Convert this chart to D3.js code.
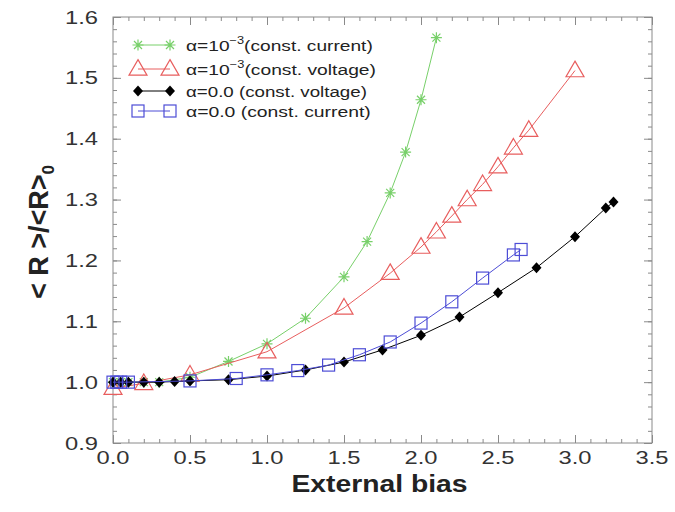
<!DOCTYPE html>
<html><head><meta charset="utf-8">
<script src="https://cdn.jsdelivr.net/npm/d3@7"></script>
<style>
body{margin:0;background:#fff;}
svg{display:block;font-family:"Liberation Sans",Arial,Helvetica,sans-serif;}
</style></head>
<body><svg id="c" width="675" height="512"></svg>
<script>
// ---- data ----
const greenX = [0, 0.05, 0.1, 0.2, 0.3, 0.5, 0.75, 1.0, 1.25, 1.5, 1.65, 1.8, 1.9, 2.0, 2.1];
const greenY = [1.0, 1.0, 1.0, 1.0, 1.0, 1.008, 1.034, 1.063, 1.105, 1.173, 1.231, 1.311, 1.378, 1.464, 1.566];
const redX = [0, 0.2, 0.5, 1.0, 1.5, 1.8, 2.0, 2.1, 2.2, 2.3, 2.4, 2.5, 2.6, 2.7, 3.0];
const redY = [0.99, 0.998, 1.012, 1.05, 1.122, 1.179, 1.222, 1.247, 1.273, 1.30, 1.325, 1.354, 1.385, 1.414, 1.512];
const blackX = [0, 0.05, 0.1, 0.2, 0.3, 0.4, 0.5, 0.75, 1.0, 1.25, 1.5, 1.75, 2.0, 2.25, 2.5, 2.75, 3.0, 3.2, 3.25];
const blackY = [1.0, 1.0, 1.0, 1.0, 1.0, 1.001, 1.002, 1.004, 1.01, 1.02, 1.033, 1.053, 1.077, 1.107, 1.147, 1.188, 1.239, 1.286, 1.296];
const blueX = [0, 0.025, 0.05, 0.1, 0.5, 0.8, 1.0, 1.2, 1.4, 1.6, 1.8, 2.0, 2.2, 2.4, 2.6, 2.65];
const blueY = [1.0, 1.0, 1.0, 1.0, 1.002, 1.006, 1.012, 1.019, 1.028, 1.045, 1.066, 1.097, 1.132, 1.171, 1.209, 1.218];
const xTickValues = [0, 0.5, 1.0, 1.5, 2.0, 2.5, 3.0, 3.5];
const yTickValues = [0.9, 1.0, 1.1, 1.2, 1.3, 1.4, 1.5, 1.6];
const seriesNames = ["α=10|−3|(const. current)", "α=10|−3|(const. voltage)", "α=0.0 (const. voltage)", "α=0.0 (const. current)"];

const series = [
  {name: seriesNames[0], xs: greenX, ys: greenY, color: "#78d06a", marker: "star", legW: 187},
  {name: seriesNames[1], xs: redX, ys: redY, color: "#e85e5e", marker: "tri", legW: 190},
  {name: seriesNames[2], xs: blackX, ys: blackY, color: "#000000", marker: "diamond", legW: 181},
  {name: seriesNames[3], xs: blueX, ys: blueY, color: "#4d4dd6", marker: "square", legW: 185}
];

const svg = d3.select("#c");
const L = 113, R = 652, T = 17, B = 443;
const x = d3.scaleLinear().domain([0, 3.5]).range([L, R]);
const y = d3.scaleLinear().domain([0.9, 1.6]).range([B, T]);

// stretch a text element horizontally to a target width (anchored at its own origin)
function fitWidth(t, w){
  const bw = t.node().getBBox().width;
  if (bw > 0) t.attr("transform", `scale(${w / bw},1)`);
}

const frameColor = "#8a8a8a";
const xMinor = d3.range(0, 3.5001, 0.1);
const yMinor = d3.range(0.9, 1.6001, 0.02);
function axisGroup(axis, tx, ty){
  const g = svg.append("g").attr("transform", `translate(${tx},${ty})`).call(axis);
  g.select(".domain").remove();
  g.selectAll("line").attr("stroke", frameColor);
  g.selectAll("text").remove();
  return g;
}
axisGroup(d3.axisBottom(x).tickValues(xMinor).tickSize(-4), 0, B);
axisGroup(d3.axisTop(x).tickValues(xMinor).tickSize(-4), 0, T);
axisGroup(d3.axisLeft(y).tickValues(yMinor).tickSize(-4), L, 0);
axisGroup(d3.axisRight(y).tickValues(yMinor).tickSize(-4), R, 0);
axisGroup(d3.axisBottom(x).tickValues(xTickValues).tickSize(-8), 0, B);
axisGroup(d3.axisTop(x).tickValues(xTickValues).tickSize(-8), 0, T);
axisGroup(d3.axisLeft(y).tickValues(yTickValues).tickSize(-8), L, 0);
axisGroup(d3.axisRight(y).tickValues(yTickValues).tickSize(-8), R, 0);

svg.append("rect").attr("x", L).attr("y", T).attr("width", R - L).attr("height", B - T)
  .attr("fill", "none").attr("stroke", frameColor).attr("stroke-width", 1);

// tick labels
const fmt = d3.format(".1f");
xTickValues.forEach(v => {
  const g = svg.append("g").attr("transform", `translate(${x(v)},${B + 21})`);
  const t = g.append("text").attr("text-anchor", "middle").attr("font-size", 18).attr("fill", "#333").text(fmt(v));
  fitWidth(t, 33);
});
yTickValues.forEach(v => {
  const g = svg.append("g").attr("transform", `translate(98,${y(v) + 6.5})`);
  const t = g.append("text").attr("text-anchor", "end").attr("font-size", 18).attr("fill", "#333").text(fmt(v));
  fitWidth(t, 33);
});

// marker drawing
function drawMarker(g, type, color, cx, cy){
  if (type === "star"){
    const s = 5.5;
    g.append("path").attr("d", `M${cx-s},${cy}L${cx+s},${cy}M${cx},${cy-s}L${cx},${cy+s}M${cx-4},${cy-4}L${cx+4},${cy+4}M${cx-4},${cy+4}L${cx+4},${cy-4}`)
      .attr("stroke", color).attr("stroke-width", 1.2).attr("fill", "none");
  } else if (type === "tri"){
    g.append("path").attr("d", d3.symbol(d3.symbolTriangle, 140)()).attr("transform", `translate(${cx},${cy+1})`)
      .attr("fill", "none").attr("stroke", color).attr("stroke-width", 1.2);
  } else if (type === "diamond"){
    g.append("path").attr("d", `M${cx},${cy-5.5}L${cx+5},${cy}L${cx},${cy+5.5}L${cx-5},${cy}Z`).attr("fill", color);
  } else if (type === "square"){
    g.append("rect").attr("x", cx-6).attr("y", cy-6).attr("width", 12).attr("height", 12)
      .attr("fill", "none").attr("stroke", color).attr("stroke-width", 1.2);
  }
}

const line = d3.line().x(d => x(d[0])).y(d => y(d[1]));
series.forEach(s => {
  const pts = s.xs.map((v, i) => [v, s.ys[i]]);
  const g = svg.append("g");
  g.append("path").datum(pts).attr("d", line).attr("fill", "none").attr("stroke", s.color).attr("stroke-width", 1);
  pts.forEach(p => drawMarker(g, s.marker, s.color, x(p[0]), y(p[1])));
});

// legend
const legY = [45, 69, 91, 111];
series.forEach((s, i) => {
  const g = svg.append("g");
  const ly = legY[i];
  g.append("line").attr("x1", 138).attr("x2", 170).attr("y1", ly).attr("y2", ly).attr("stroke", s.color).attr("stroke-width", 1);
  drawMarker(g, s.marker, s.color, 138, ly);
  drawMarker(g, s.marker, s.color, 170, ly);
  const parts = s.name.split("|");
  const tg = g.append("g").attr("transform", `translate(186,${ly + 5.5})`);
  const t = tg.append("text").attr("font-size", 15).attr("fill", "#222");
  if (parts.length === 3){
    t.append("tspan").text(parts[0]);
    t.append("tspan").attr("dy", -7).attr("font-size", 10).text(parts[1]);
    t.append("tspan").attr("dy", 7).text(parts[2]);
  } else {
    t.text(parts[0]);
  }
  fitWidth(t, s.legW);
});

// axis titles
const xtG = svg.append("g").attr("transform", `translate(${(L + R) / 2 - 3},492)`);
const xt = xtG.append("text").attr("text-anchor", "middle")
  .attr("font-size", 24).attr("font-weight", "bold").attr("fill", "#222").text("External bias");
fitWidth(xt, 176);
const yt = svg.append("text").attr("transform", `translate(48,232) rotate(-90)`).attr("text-anchor", "middle")
  .attr("font-size", 27).attr("font-weight", "bold").attr("fill", "#222");
yt.append("tspan").text("< R >/<R>");
yt.append("tspan").attr("dy", 6).attr("font-size", 17).text("0");
</script></body></html>
